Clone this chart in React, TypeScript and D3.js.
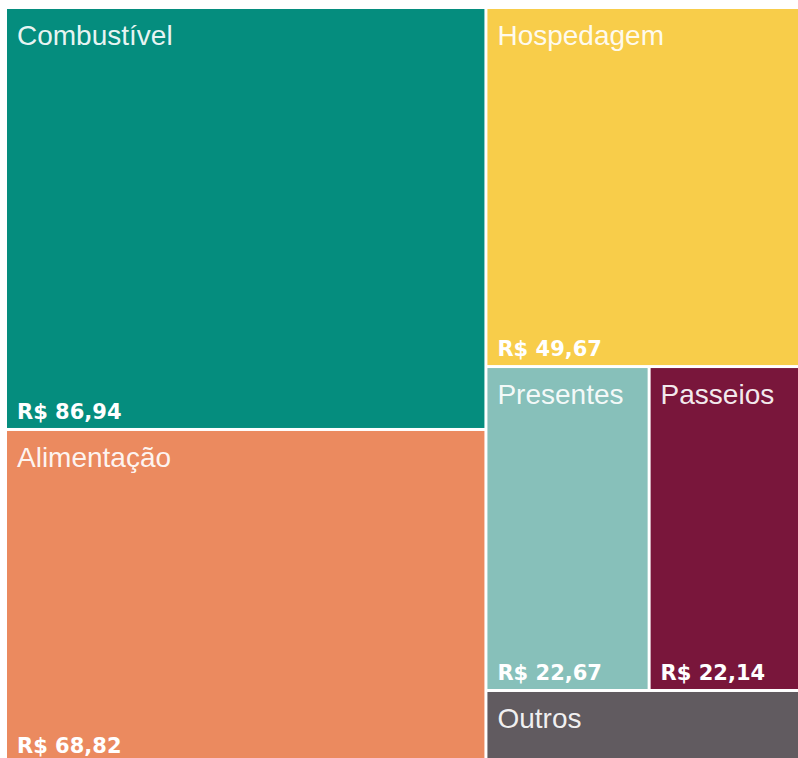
import React, { useEffect, useRef } from 'react'
import * as d3 from 'd3'

const categories = ['Combustível', 'Alimentação', 'Hospedagem', 'Presentes', 'Passeios', 'Outros']
const values = [86.94, 68.82, 49.67, 22.67, 22.14, 10.1]
const valueLabels = ['R$ 86,94', 'R$ 68,82', 'R$ 49,67', 'R$ 22,67', 'R$ 22,14', '']
const colors = ['#058d7e', '#eb8a5f', '#f8cd4a', '#87c0ba', '#79163b', '#615b60']

const W = 798
const H = 758

export default function App() {
  const ref = useRef<SVGSVGElement>(null)

  useEffect(() => {
    const svg = d3.select(ref.current)
    svg.selectAll('*').remove()

    const margin = { left: 7, top: 9 }
    const width = 800,
      height = 753

    const rows = categories.map((name, i) => ({ name, value: values[i], label: valueLabels[i], color: colors[i] }))
    const root = d3
      .hierarchy<any>({ children: rows })
      .sum((d) => d.value || 0)
      .sort((a, b) => (b.value || 0) - (a.value || 0))

    d3.treemap<any>().size([width, height]).paddingInner(3).tile(d3.treemapSquarify)(root)

    const g = svg.append('g').attr('transform', 'translate(' + margin.left + ',' + margin.top + ')')

    const cell = g
      .selectAll('g.cell')
      .data(root.leaves() as d3.HierarchyRectangularNode<any>[])
      .enter()
      .append('g')
      .attr('class', 'cell')
      .attr('transform', (d) => 'translate(' + d.x0 + ',' + d.y0 + ')')

    cell
      .append('rect')
      .attr('width', (d) => d.x1 - d.x0)
      .attr('height', (d) => d.y1 - d.y0)
      .attr('fill', (d) => d.data.color)

    // category name, top left
    cell
      .append('text')
      .attr('x', 10)
      .attr('y', 36)
      .attr('fill', '#fff')
      .attr('fill-opacity', 0.92)
      .style('font-family', '"Liberation Sans", Arial, sans-serif')
      .style('font-size', '28px')
      .text((d) => d.data.name)

    // value, bottom left (hidden in small boxes)
    cell
      .filter((d) => d.y1 - d.y0 > 100)
      .append('text')
      .attr('x', 10)
      .attr('y', (d) => d.y1 - d.y0 - 9)
      .attr('fill', '#fff')
      .style('font-family', '"DejaVu Sans", Verdana, sans-serif')
      .style('font-weight', 'bold')
      .style('font-size', '21px')
      .text((d) => d.data.label)
  }, [])

  return (
    <svg
      ref={ref}
      width={W}
      height={H}
      style={{ position: 'absolute', left: 0, top: 0, background: '#fff', display: 'block' }}
    />
  )
}
